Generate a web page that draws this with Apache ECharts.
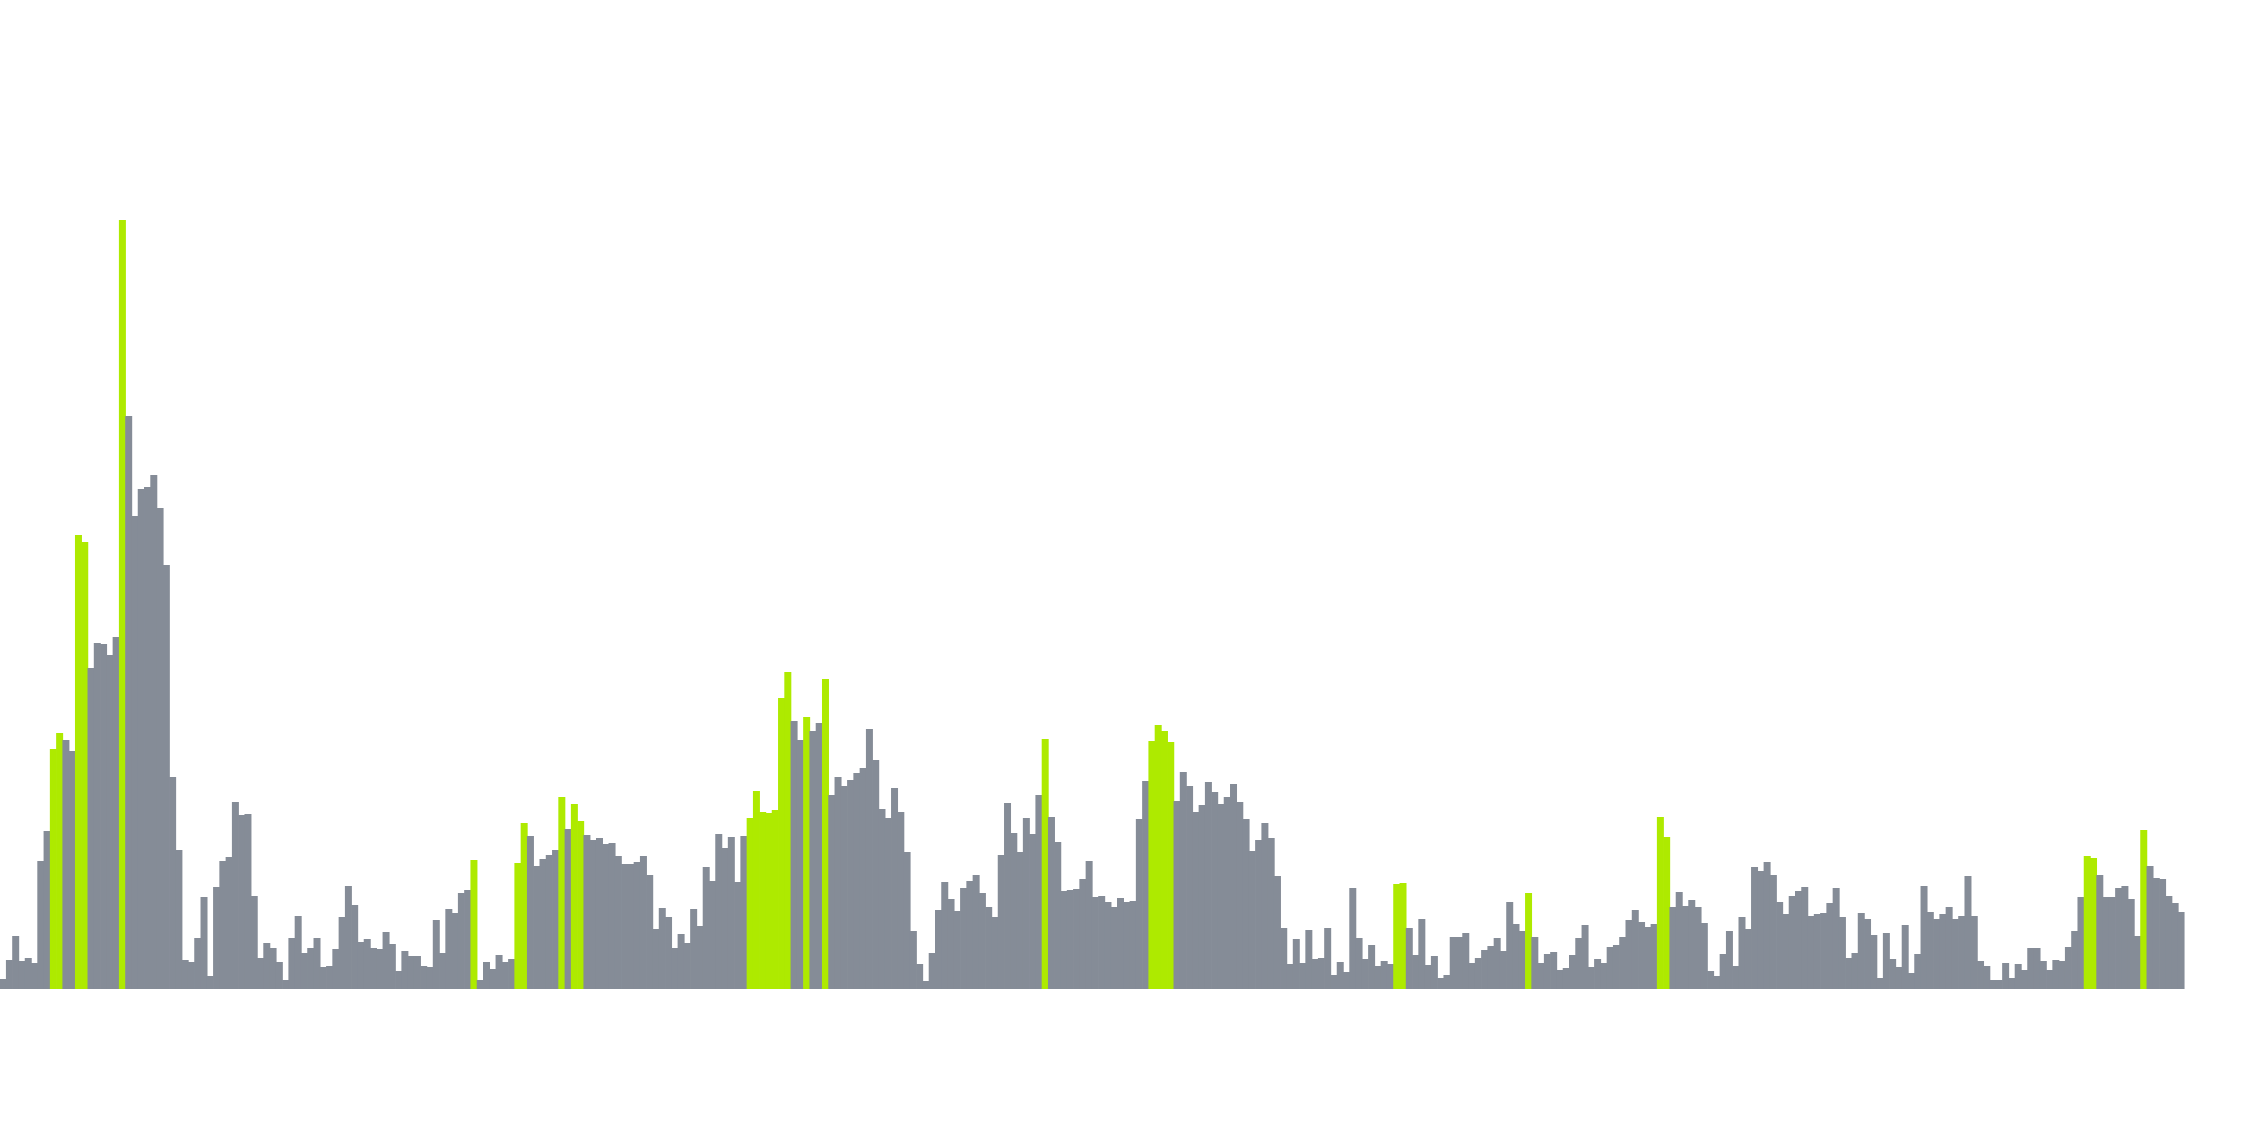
<!DOCTYPE html>
<html>
<head>
<meta charset="utf-8">
<script src="https://cdn.jsdelivr.net/npm/echarts@6/dist/echarts.min.js"></script>
<style>
  html, body { margin: 0; padding: 0; background: #ffffff; }
  #chart { width: 2268px; height: 1148px; }
</style>
</head>
<body>
<div id="chart"></div>
<script>
// Bar heights (one value per bar, left to right)
const values = [
  10, 29, 53, 28, 31, 26, 128, 158, 240, 256,
  249, 238, 454, 447, 321, 346, 345, 334, 352, 769,
  573, 473, 500, 502, 514, 481, 424, 212, 139, 29,
  27, 51, 92, 13, 102, 128, 132, 187, 174, 175,
  93, 31, 46, 41, 27, 9, 51, 73, 36, 41,
  51, 22, 23, 40, 72, 103, 84, 47, 50, 41,
  40, 57, 45, 18, 38, 33, 33, 23, 22, 69,
  36, 80, 76, 96, 99, 129, 9, 27, 20, 34,
  27, 30, 126, 166, 153, 123, 130, 134, 139, 192,
  160, 185, 168, 154, 149, 151, 145, 146, 133, 125,
  125, 127, 133, 114, 60, 81, 72, 41, 55, 46,
  80, 63, 122, 108, 155, 141, 152, 107, 153, 171,
  198, 177, 176, 179, 291, 317, 268, 249, 272, 258,
  266, 310, 194, 212, 203, 209, 216, 221, 260, 229,
  180, 171, 201, 177, 137, 58, 25, 8, 36, 79,
  107, 90, 78, 101, 108, 114, 96, 82, 72, 134,
  186, 156, 137, 171, 155, 194, 250, 172, 147, 98,
  99, 100, 110, 128, 92, 93, 87, 82, 91, 87,
  88, 170, 208, 248, 264, 258, 247, 188, 217, 203,
  177, 184, 207, 197, 185, 192, 205, 187, 170, 138,
  149, 166, 151, 113, 61, 25, 50, 26, 59, 30,
  31, 61, 14, 27, 17, 101, 51, 30, 44, 23,
  28, 25, 105, 106, 61, 34, 70, 24, 33, 11,
  14, 52, 52, 56, 26, 31, 39, 43, 51, 38,
  87, 65, 58, 96, 52, 26, 35, 37, 19, 21,
  34, 51, 64, 22, 30, 26, 42, 44, 52, 69,
  79, 67, 62, 65, 172, 152, 82, 97, 83, 89,
  82, 66, 18, 13, 35, 58, 23, 72, 60, 122,
  118, 127, 114, 87, 75, 93, 98, 102, 73, 75,
  76, 86, 101, 72, 31, 36, 76, 70, 54, 11,
  56, 30, 22, 64, 16, 35, 103, 77, 70, 75,
  82, 70, 73, 113, 73, 28, 23, 9, 9, 26,
  11, 25, 19, 41, 41, 28, 19, 29, 28, 42,
  58, 92, 133, 131, 114, 92, 92, 101, 103, 90,
  53, 159, 123, 111, 110, 93, 86, 77
];

// Indices of the highlighted (lime) bars
const highlighted = [
  8, 9, 12, 13, 19, 75, 82, 83, 89, 91, 92,
  119, 120, 121, 122, 123, 124, 125, 128, 131, 166,
  183, 184, 185, 186, 222, 223, 243, 264, 265, 332, 333, 341
];

// Category labels (one per bar)
const categories = values.map((_, i) => String(i + 1));

const GRAY = '#858c97';
const LIME = '#aeea00';
const hiSet = new Set(highlighted);

const chart = echarts.init(document.getElementById('chart'), null, { renderer: 'canvas' });
chart.setOption({
  animation: false,
  backgroundColor: '#ffffff',
  grid: { left: -2.95, right: 83.45, top: 100, bottom: 159, containLabel: false },
  xAxis: {
    type: 'category',
    data: categories,
    show: false,
    boundaryGap: true
  },
  yAxis: {
    type: 'value',
    min: 0,
    max: 889,
    show: false,
    splitLine: { show: false }
  },
  series: [{
    type: 'bar',
    barWidth: 7,
    data: values.map((v, i) => ({
      value: v,
      itemStyle: { color: hiSet.has(i) ? LIME : GRAY }
    }))
  }]
});
</script>
</body>
</html>
